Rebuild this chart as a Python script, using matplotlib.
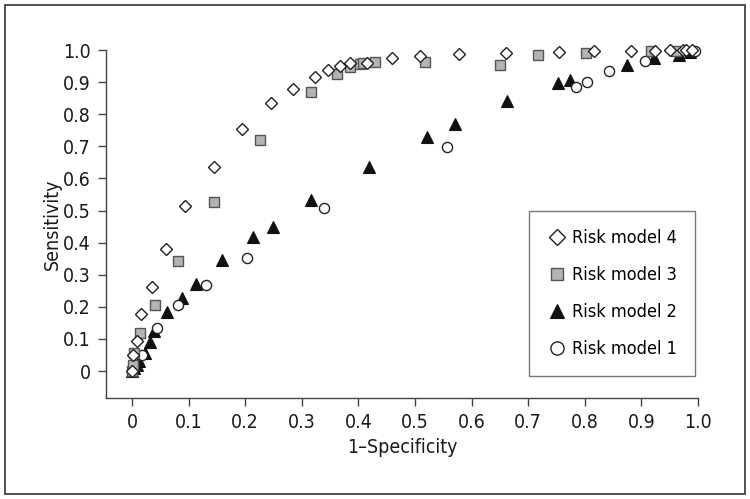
import matplotlib
matplotlib.use('Agg')
import matplotlib.pyplot as plt
from matplotlib.patches import Rectangle

# Risk model 4 (open diamonds)
x_m4 = [0, 0.001, 0.008, 0.015, 0.035, 0.060, 0.094, 0.145, 0.194, 0.246, 0.285, 0.324, 0.347,
        0.367, 0.385, 0.415, 0.459, 0.509, 0.577, 0.660, 0.754, 0.817, 0.881, 0.924, 0.950,
        0.974, 0.978, 0.990]
y_m4 = [0, 0.049, 0.093, 0.178, 0.262, 0.380, 0.513, 0.635, 0.755, 0.835, 0.878, 0.915, 0.938,
        0.950, 0.958, 0.958, 0.976, 0.982, 0.988, 0.992, 0.993, 0.997, 0.998, 0.998, 0.999,
        0.999, 1.0, 1.0]
# Risk model 3 (gray squares)
x_m3 = [0, 0.001, 0.004, 0.014, 0.041, 0.081, 0.144, 0.226, 0.317, 0.362, 0.386, 0.403, 0.408,
        0.429, 0.518, 0.650, 0.717, 0.802, 0.917, 0.961]
y_m3 = [0, 0.019, 0.057, 0.120, 0.206, 0.344, 0.526, 0.720, 0.868, 0.925, 0.948, 0.957, 0.960,
        0.963, 0.963, 0.954, 0.984, 0.992, 0.998, 0.997]
# Risk model 2 (black triangles)
x_m2 = [0, 0.004, 0.008, 0.013, 0.023, 0.031, 0.039, 0.061, 0.089, 0.113, 0.159, 0.214, 0.249,
        0.316, 0.419, 0.521, 0.570, 0.663, 0.752, 0.773, 0.874, 0.922, 0.966, 0.986]
y_m2 = [0, 0.010, 0.020, 0.030, 0.057, 0.091, 0.126, 0.183, 0.226, 0.270, 0.346, 0.417, 0.450,
        0.533, 0.636, 0.728, 0.770, 0.842, 0.896, 0.907, 0.953, 0.974, 0.984, 0.995]
# Risk model 1 (open circles)
x_m1 = [0, 0.018, 0.044, 0.082, 0.131, 0.204, 0.339, 0.556, 0.784, 0.804, 0.843, 0.906, 0.995]
y_m1 = [0, 0.050, 0.133, 0.206, 0.269, 0.353, 0.509, 0.699, 0.886, 0.899, 0.935, 0.966, 0.997]

ticks = [0, 0.1, 0.2, 0.3, 0.4, 0.5, 0.6, 0.7, 0.8, 0.9, 1.0]
tick_labels = ['0', '0.1', '0.2', '0.3', '0.4', '0.5', '0.6', '0.7', '0.8', '0.9', '1.0']

plt.rcParams['font.family'] = ['DejaVu Sans']
plt.rcParams['font.stretch'] = 'condensed'

fig = plt.figure(figsize=(7.5, 4.99), dpi=100)
ax = fig.add_axes([106/750, 1 - 398/499, (698 - 106)/750, (398 - 50)/499])

common = dict(linestyle='none', clip_on=False)
ax.plot(x_m1, y_m1, marker='o', markersize=7.3, markerfacecolor='white',
        markeredgecolor='#222222', markeredgewidth=1.0, label='Risk model 1', zorder=3, **common)
ax.plot(x_m2, y_m2, marker='^', markersize=8, markerfacecolor='#111111',
        markeredgecolor='#111111', markeredgewidth=0.8, label='Risk model 2', zorder=2, **common)
ax.plot(x_m3, y_m3, marker='s', markersize=6.5, markerfacecolor='#b3b3b3',
        markeredgecolor='#555555', markeredgewidth=1.0, label='Risk model 3', zorder=4, **common)
ax.plot(x_m4, y_m4, marker='D', markersize=6.0, markerfacecolor='white',
        markeredgecolor='#222222', markeredgewidth=1.0, label='Risk model 4', zorder=5, **common)

ax.set_xlim(-0.046, 1.0)
ax.set_ylim(-0.084, 1.0)
ax.set_xticks(ticks)
ax.set_xticklabels(tick_labels)
ax.set_yticks(ticks)
ax.set_yticklabels(tick_labels)
ax.spines['top'].set_visible(False)
ax.spines['right'].set_visible(False)
for s in ('left', 'bottom'):
    ax.spines[s].set_color('#444444')
    ax.spines[s].set_linewidth(1.0)
ax.tick_params(axis='both', direction='out', length=6, width=1.0, color='#444444',
               labelsize=14, labelcolor='#1a1a1a', pad=5)
ax.set_xlabel('1\u2013Specificity', fontsize=14, color='#1a1a1a', labelpad=4)
ax.set_ylabel('Sensitivity', fontsize=14, color='#1a1a1a', labelpad=1)

handles, labels = ax.get_legend_handles_labels()
leg = ax.legend(handles[::-1], labels[::-1], loc='lower right',
                bbox_to_anchor=(0.995, 0.063), fontsize=13, frameon=True, fancybox=False,
                edgecolor='#555555', borderpad=1.0, labelspacing=1.05, handletextpad=0.3,
                handlelength=1.1, borderaxespad=0, markerscale=1.3)
leg.get_frame().set_linewidth(1.0)

fig.patches.append(Rectangle((5/750, 5/499), 740/750, 489/499, transform=fig.transFigure,
                             fill=False, edgecolor='#333333', linewidth=1.2))

fig.savefig('out.png', dpi=100)
